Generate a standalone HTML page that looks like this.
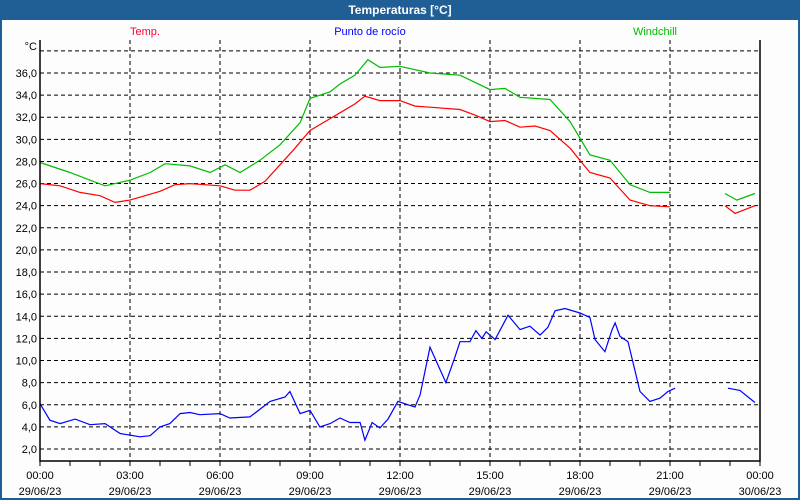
<!DOCTYPE html>
<html><head><meta charset="utf-8"><style>
body{margin:0;background:#fff}
svg{display:block;font-family:"Liberation Sans",sans-serif}
</style></head><body>
<svg id="chart" width="800" height="500" viewBox="0 0 800 500" xmlns="http://www.w3.org/2000/svg">
<rect x="0" y="0" width="800" height="500" fill="#1f5f96"/>
<rect x="2" y="20" width="796" height="478" fill="#fdfdfd"/>
<text x="400" y="14" text-anchor="middle" fill="#fff" font-size="12" font-weight="bold">Temperaturas [°C]</text>
<text x="145" y="35" text-anchor="middle" fill="#ff0033" font-size="11">Temp.</text>
<text x="370" y="35" text-anchor="middle" fill="#0000ff" font-size="11">Punto de rocío</text>
<text x="655" y="35" text-anchor="middle" fill="#00bb00" font-size="11">Windchill</text>
<text x="37" y="50" text-anchor="end" fill="#000" font-size="11">°C</text>
<g id="grid"></g><g id="series"></g><g id="axes"></g>
</svg>
<script>
const yTicks=[2,4,6,8,10,12,14,16,18,20,22,24,26,28,30,32,34,36,38];
const xTickHours=[0,3,6,9,12,15,18,21,24];
const xTimeLabels=["00:00","03:00","06:00","09:00","12:00","15:00","18:00","21:00","00:00"];
const xDateLabels=["29/06/23","29/06/23","29/06/23","29/06/23","29/06/23","29/06/23","29/06/23","29/06/23","30/06/23"];
const tempHours=[0,0.67,1.33,2,2.5,3,3.5,4,4.5,5,5.5,6,6.5,7,7.5,8,8.5,9,9.5,10,10.5,10.83,11.33,12,12.5,13,14,14.5,15,15.5,16,16.5,17,17.67,18.33,19,19.67,20.33,21,null,22.83,23.17,23.83];
const tempValues=[26.0,25.8,25.2,24.9,24.3,24.5,24.9,25.3,25.9,26.0,25.9,25.8,25.4,25.4,26.2,27.7,29.2,30.8,31.6,32.4,33.2,33.9,33.5,33.5,33.0,32.9,32.7,32.2,31.6,31.7,31.1,31.2,30.8,29.2,27.0,26.5,24.5,24.0,23.9,null,24.0,23.3,24.0];
const windHours=[0,1,1.67,2.17,3,3.67,4.17,5,5.67,6.17,6.67,7.33,8,8.67,9,9.67,10,10.5,10.93,11.33,12,13,14,15,15.5,16,17,17.67,18.33,19,19.67,20.33,21,null,22.83,23.23,23.83];
const windValues=[27.9,27.0,26.3,25.8,26.3,27.0,27.8,27.6,27.0,27.7,27.0,28.1,29.5,31.5,33.7,34.3,35.0,35.8,37.2,36.5,36.6,36.0,35.8,34.5,34.6,33.8,33.6,31.6,28.6,28.1,25.9,25.2,25.2,null,25.1,24.5,25.1];
const dewHours=[0,0.33,0.67,1.17,1.67,2.17,2.67,3.33,3.67,4,4.33,4.67,5,5.33,6,6.33,7,7.67,8.17,8.33,8.67,9,9.33,9.67,10,10.33,10.67,10.83,11.07,11.33,11.6,11.93,12.27,12.5,12.67,13,13.53,13.83,14,14.33,14.53,14.73,14.87,15.17,15.6,16,16.33,16.67,16.93,17.17,17.5,18,18.33,18.5,18.83,19.07,19.17,19.33,19.6,20,20.33,20.67,20.93,21.17,null,22.93,23.33,23.83];
const dewValues=[6.1,4.6,4.3,4.7,4.2,4.3,3.4,3.1,3.2,4.0,4.3,5.2,5.3,5.1,5.2,4.8,4.9,6.3,6.7,7.2,5.2,5.5,4.0,4.3,4.8,4.4,4.4,2.8,4.4,3.9,4.7,6.3,6.0,5.8,6.9,11.2,8.0,10.3,11.7,11.7,12.7,12.0,12.6,11.9,14.1,12.8,13.1,12.3,13.0,14.5,14.7,14.3,13.9,11.9,10.8,12.8,13.4,12.2,11.7,7.2,6.3,6.6,7.2,7.5,null,7.5,7.3,6.2];
const NS="http://www.w3.org/2000/svg";
const L=40,R=760,T=40,B=461;
const xs=h=>L+h*(R-L)/24;
const ys=v=>449-(v-2)*11.06;
function mk(tag,attrs,parent){const e=document.createElementNS(NS,tag);for(const k in attrs)e.setAttribute(k,attrs[k]);parent.appendChild(e);return e;}
const grid=document.getElementById('grid'),axes=document.getElementById('axes'),series=document.getElementById('series');
yTicks.forEach(v=>{
 const ln=mk('line',{x1:L,x2:R,y1:ys(v),y2:ys(v),stroke:'#000','stroke-dasharray':'4,3'},grid);
 
 
 if(v<38){const t=mk('text',{x:37,y:ys(v)+4,'text-anchor':'end','font-size':'11',fill:'#000'},axes);t.textContent=v.toFixed(1).replace('.',',');
 
 }
});
xTickHours.forEach((h,i)=>{
 if(h>0&&h<24){const ln=mk('line',{x1:xs(h),x2:xs(h),y1:T,y2:B,stroke:'#000','stroke-dasharray':'4,3'},grid);
 
 }
 const t=mk('text',{x:xs(h),y:479,'text-anchor':'middle','font-size':'11',fill:'#000'},axes);t.textContent=xTimeLabels[i];
 
 
 const d=mk('text',{x:xs(h),y:495,'text-anchor':'middle','font-size':'11',fill:'#000'},axes);d.textContent=xDateLabels[i];
 
 
});
for(let h=0;h<=24;h++){const tk=mk('line',{x1:xs(h),x2:xs(h),y1:B,y2:B+5,stroke:'#000'},axes);
 
 }
const ax=mk('path',{d:`M${L},${T}V${B}H${R}V${T}`,fill:'none',stroke:'#000','stroke-width':'1.5'},axes);


function draw(hs,vs,color,name){
 let d='',pen=false;
 for(let i=0;i<hs.length;i++){
  if(hs[i]===null||vs[i]===null){pen=false;continue;}
  d+=(pen?'L':'M')+xs(hs[i]).toFixed(1)+','+ys(vs[i]).toFixed(1);pen=true;
 }
 const p=mk('path',{d:d,fill:'none',stroke:color,'stroke-width':'1.2'},series);
 
 
}
draw(windHours,windValues,'#00bb00','windchill-line');
draw(tempHours,tempValues,'#ff0000','temperature-line');
draw(dewHours,dewValues,'#0000ff','dew-point-line');
</script>
</body></html>
